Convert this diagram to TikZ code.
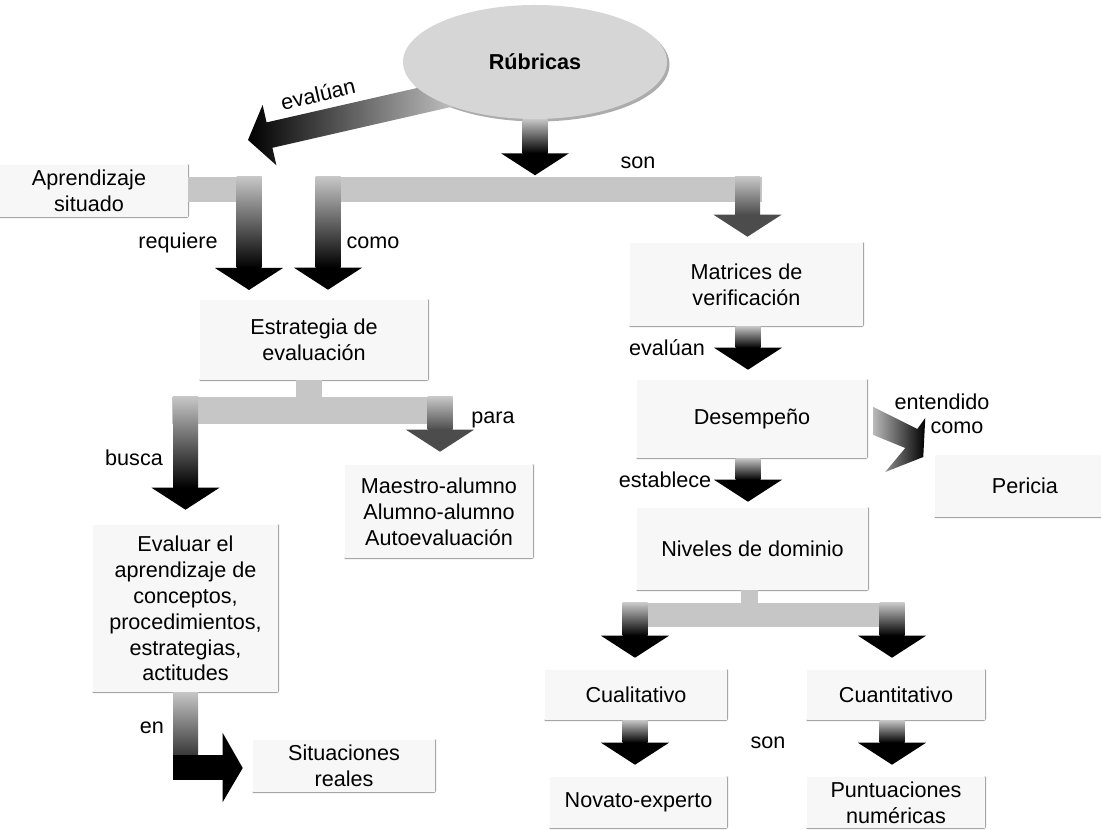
\documentclass[tikz,border=0pt]{standalone}
\usepackage{fontspec}
\setmainfont{Liberation Sans}
\usepackage{tikz}
\usetikzlibrary{calc,shapes.geometric}

\newcommand{\mapfont}{\fontsize{16.2}{19.4}\selectfont}

% flecha gruesa hacia abajo: #2 arranque del tallo, #3 punta
\newcommand{\vblk}[3][black]{%
  \shade[top color=gray!45, bottom color=#1] ($(#2)+(-12.5,0)$) rectangle ($(#3)+(12.5,-22)$);
  \fill[#1] ($(#3)+(-34,-22)$) -- ($(#3)+(34,-22)$) -- (#3) -- cycle;
}

\tikzset{
  box/.style={fill=gray!6, inner sep=0pt, align=center, font=\mapfont,
    append after command={\pgfextra{\draw[boxedge] (\tikzlastnode.north east) -- (\tikzlastnode.south east) -- (\tikzlastnode.south west);}}},
  boxsize/.style 2 args={minimum width=#1*0.75pt, minimum height=#2*0.75pt},
  boxedge/.style={draw=gray!70, line width=1.3pt, rounded corners=1.5pt},
  lbl/.style={font=\mapfont, inner sep=0pt},
  bar/.style={fill=gray!45},
}

\begin{document}
\begin{tikzpicture}[x=0.75pt,y=0.75pt,yscale=-1,xscale=1]
\useasboundingbox (0,0) rectangle (1101,830);

%Shape: Ellipse shadow
\fill[gray!65] (537.5,64.5) ellipse [x radius=132, y radius=57];

%Block Arrow: evaluan (diagonal, under the ellipse)
\coordinate (evtip) at (248,140);
\shade[left color=black, right color=gray!45] (evtip) -- (262.6,104.9) -- (266.6,122.4) -- (454.7,79.4) -- (460.5,104.8) -- (272.4,147.8) -- (276.4,165.3) -- cycle;

%Shape: Ellipse [Rubricas]
\node[ellipse, fill=gray!32, minimum width=198pt, minimum height=85.5pt, inner sep=0pt, font=\mapfont\bfseries] (rub) at (535,62) {Rúbricas};

% Text Node boxes
\node[box, boxsize={198}{52}] (aprend) at (89,191) {Aprendizaje\\situado};
\node[box, boxsize={228}{80}] (strat) at (314,340) {Estrategia de\\evaluación};
\node[box, boxsize={185}{167}] (evalua) at (185.5,608.5) {Evaluar el\\aprendizaje de\\conceptos,\\procedimientos,\\estrategias,\\actitudes};
\node[box, boxsize={188}{93}] (roles) at (439,511.5) {Maestro-alumno\\Alumno-alumno\\Autoevaluación};
\node[box, boxsize={182}{52}] (situ) at (344,766) {Situaciones\\reales};
\node[box, boxsize={233}{83}] (matrices) at (746.5,284.5) {Matrices de\\verificación};
\node[box, boxsize={230}{78}] (desemp) at (752,419) {Desempeño};
\node[box, boxsize={180}{62}] (pericia) at (1025,486) {Pericia};
\node[box, boxsize={231}{82}] (niveles) at (752.5,549) {Niveles de dominio};
\node[box, boxsize={182}{50}] (cuali) at (636,695) {Cualitativo};
\node[box, boxsize={178}{50}] (cuanti) at (896,695) {Cuantitativo};
\node[box, boxsize={177}{51}] (novato) at (638.5,802.5) {Novato-experto};
\node[box, boxsize={178}{51}] (puntu) at (896,802.5) {Puntuaciones\\numéricas};

%Block Arrow: Rubricas -> son
\coordinate (tipson) at ($(rub.south)+(0,56)$);
\vblk{rub.south}{tipson};

%Bar: como / son
\coordinate (sonL) at (315,177);
\coordinate (sonR) at (762,202);
\fill[bar] (sonL) rectangle (sonR);
\coordinate (tipcomo) at ($(strat.north)+(14,-10)$);
\vblk{tipcomo |- sonL}{tipcomo};
\coordinate (tipmat) at ($(matrices.north)+(1,-6)$);
\vblk[black!70]{tipmat |- sonL}{tipmat};

%Bar: requiere
\coordinate (tipreq) at (249,290);
\coordinate (reqtop) at ($(tipreq |- aprend.east)+(0,-14)$);
\fill[bar] ($(aprend.east)+(0,-14)$) rectangle ($(tipreq |- aprend.east)+(12.5,11)$);
\vblk{reqtop}{tipreq};

%Bar: busca / para
\fill[bar] ($(strat.south)+(-18,0)$) rectangle ($(strat.south)+(8,17)$);
\coordinate (busL) at (172,397);
\coordinate (busR) at (453,424);
\fill[bar] (busL) rectangle (busR);
\coordinate (tipbus) at ($(evalua.north)+(0,-15)$);
\vblk{tipbus |- busL}{tipbus};
\coordinate (tippara) at ($(roles.north)+(1,-13)$);
\vblk[black!70]{tippara |- busL}{tippara};

%Block Arrow: en (bent)
\coordinate (tipen) at ($(situ.west)+(-10,2)$);
\shade[top color=gray!45, bottom color=black] ($(evalua.south)+(-12.5,0)$) rectangle ($(evalua.south |- tipen)+(12.5,12)$);
\fill[black] ($(evalua.south |- tipen)+(-12.5,-13)$) rectangle ($(tipen)+(-20,12)$);
\fill[black] ($(tipen)+(-20,-35)$) -- ($(tipen)+(-20,34)$) -- (tipen) -- cycle;

%Block Arrow: evaluan / establece
\coordinate (tipdes) at ($(desemp.north)+(-4,-10)$);
\vblk{tipdes |- matrices.south}{tipdes};
\coordinate (tipniv) at ($(niveles.north)+(-4.5,-6)$);
\vblk{tipniv |- desemp.south}{tipniv};

%Block Arrow: entendido como
\shade[left color=gray!55, right color=black] ($(desemp.east)+(6,-12)$) -- ($(desemp.east)+(50,10)$) -- ($(desemp.east)+(58,-1)$) -- ($(desemp.east)+(56,38)$) -- ($(desemp.east)+(18,53)$) -- ($(desemp.east)+(38,29)$) -- ($(desemp.east)+(6,16)$) -- cycle;

%Bar: Cualitativo / Cuantitativo
\fill[bar] ($(niveles.south)+(-12,0)$) rectangle ($(niveles.south)+(5,13)$);
\coordinate (nivL) at (622,603);
\coordinate (nivR) at (905,627);
\fill[bar] (nivL) rectangle (nivR);
\coordinate (tipcuali) at ($(cuali.north)+(-1,-12)$);
\vblk{tipcuali |- nivL}{tipcuali};
\coordinate (tipcuanti) at ($(cuanti.north)+(-4,-12)$);
\vblk{tipcuanti |- nivL}{tipcuanti};

%Block Arrow: son (bottom)
\coordinate (tipnov) at ($(novato.north)+(-3.5,-12)$);
\vblk{tipnov |- cuali.south}{tipnov};
\coordinate (tippun) at ($(puntu.north)+(-4,-12)$);
\vblk{tippun |- cuanti.south}{tippun};

% Text Node labels
\node[lbl, rotate=13] (l_eval) at (318,94) {evalúan};
\node[lbl] (l_req) at (178,243) {requiere};
\node[lbl] (l_como) at (373,243) {como};
\node[lbl] (l_son) at (638,163) {son};
\node[lbl] (l_busca) at (134,458) {busca};
\node[lbl] (l_para) at (493,420) {para};
\node[lbl] (l_en) at (152,728) {en};
\node[lbl] (l_eval2) at (667,348) {evalúan};
\node[lbl] (l_est) at (665,480) {establece};
\node[lbl] (l_ent) at (942,402) {entendido};
\node[lbl] (l_como2) at (957,428) {como};
\node[lbl] (l_son2) at (768,743) {son};

\end{tikzpicture}
\end{document}
